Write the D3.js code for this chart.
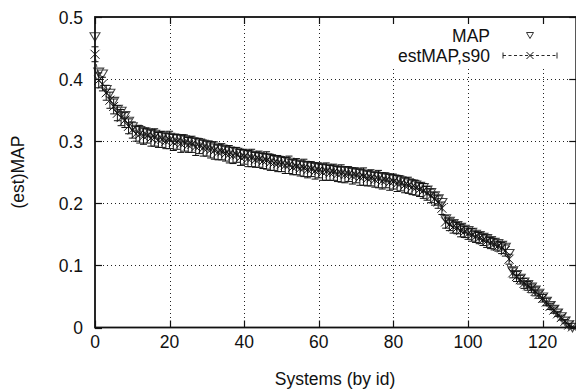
<!DOCTYPE html>
<html>
<head>
<meta charset="utf-8">
<script src="https://cdn.jsdelivr.net/npm/d3@7"></script>
<style>
  body { margin: 0; background: white; }
  text { font-family: "Liberation Sans", Arial, sans-serif; fill: #111; }
</style>
</head>
<body>
<div id="chart"></div>
<script>
// MAP per system, sorted
const mapValues = [
  0.469, 0.412, 0.409, 0.384, 0.378, 0.365, 0.352, 0.349, 0.342, 0.333,
  0.324, 0.320, 0.318, 0.316, 0.314, 0.313, 0.312, 0.310, 0.309, 0.308,
  0.307, 0.306, 0.305, 0.305, 0.303, 0.302, 0.300, 0.299, 0.298, 0.296,
  0.295, 0.293, 0.291, 0.289, 0.288, 0.287, 0.285, 0.284, 0.283, 0.281,
  0.280, 0.279, 0.278, 0.277, 0.276, 0.275, 0.274, 0.273, 0.271, 0.270,
  0.269, 0.268, 0.267, 0.265, 0.264, 0.263, 0.262, 0.261, 0.260, 0.259,
  0.258, 0.257, 0.257, 0.256, 0.255, 0.254, 0.253, 0.253, 0.252, 0.251,
  0.250, 0.249, 0.248, 0.247, 0.246, 0.245, 0.244, 0.243, 0.242, 0.241,
  0.240, 0.239, 0.237, 0.235, 0.234, 0.232, 0.230, 0.228, 0.226, 0.222,
  0.218, 0.213, 0.208, 0.202, 0.176, 0.172, 0.168, 0.165, 0.162, 0.159,
  0.157, 0.154, 0.151, 0.149, 0.146, 0.144, 0.141, 0.138, 0.136, 0.133,
  0.130, 0.120, 0.092, 0.086, 0.080, 0.074, 0.070, 0.066, 0.061, 0.056,
  0.050, 0.043, 0.036, 0.030, 0.024, 0.018, 0.011, 0.005, 0.001
];

// estimated MAP (s90) per system
const estValues = [
  0.440, 0.398, 0.392, 0.378, 0.366, 0.356, 0.345, 0.338, 0.334, 0.324,
  0.318, 0.312, 0.311, 0.308, 0.309, 0.305, 0.306, 0.302, 0.303, 0.300,
  0.302, 0.298, 0.299, 0.296, 0.297, 0.294, 0.295, 0.291, 0.292, 0.289,
  0.288, 0.286, 0.285, 0.282, 0.283, 0.280, 0.279, 0.277, 0.278, 0.274,
  0.275, 0.272, 0.273, 0.270, 0.271, 0.268, 0.269, 0.266, 0.265, 0.264,
  0.263, 0.261, 0.262, 0.258, 0.259, 0.256, 0.257, 0.254, 0.255, 0.252,
  0.253, 0.250, 0.251, 0.249, 0.250, 0.247, 0.248, 0.246, 0.247, 0.244,
  0.245, 0.242, 0.243, 0.240, 0.241, 0.238, 0.239, 0.236, 0.237, 0.234,
  0.235, 0.232, 0.232, 0.229, 0.229, 0.226, 0.225, 0.222, 0.220, 0.216,
  0.212, 0.207, 0.202, 0.192, 0.170, 0.166, 0.162, 0.160, 0.156, 0.154,
  0.151, 0.149, 0.146, 0.144, 0.141, 0.139, 0.136, 0.134, 0.131, 0.128,
  0.124, 0.110, 0.088, 0.082, 0.077, 0.071, 0.067, 0.063, 0.058, 0.053,
  0.047, 0.041, 0.034, 0.028, 0.022, 0.016, 0.010, 0.004, 0.001
];

// error half-widths of the estimate
const estErrors = [
  0.012, 0.012, 0.011, 0.012, 0.013, 0.012, 0.012, 0.013, 0.012, 0.012,
  0.013, 0.012, 0.014, 0.013, 0.012, 0.013, 0.014, 0.012, 0.013, 0.012,
  0.014, 0.013, 0.012, 0.014, 0.013, 0.012, 0.013, 0.014, 0.012, 0.013,
  0.012, 0.013, 0.014, 0.012, 0.013, 0.012, 0.014, 0.013, 0.012, 0.013,
  0.012, 0.013, 0.014, 0.012, 0.013, 0.012, 0.014, 0.013, 0.012, 0.013,
  0.012, 0.013, 0.014, 0.012, 0.013, 0.012, 0.014, 0.013, 0.012, 0.013,
  0.012, 0.013, 0.014, 0.012, 0.013, 0.012, 0.014, 0.013, 0.012, 0.013,
  0.012, 0.013, 0.014, 0.012, 0.013, 0.012, 0.014, 0.013, 0.012, 0.013,
  0.012, 0.013, 0.012, 0.012, 0.013, 0.012, 0.012, 0.011, 0.012, 0.011,
  0.011, 0.010, 0.010, 0.010, 0.010, 0.010, 0.010, 0.009, 0.010, 0.009,
  0.009, 0.010, 0.009, 0.009, 0.009, 0.010, 0.009, 0.009, 0.008, 0.009,
  0.009, 0.008, 0.008, 0.008, 0.007, 0.008, 0.007, 0.007, 0.007, 0.006,
  0.006, 0.006, 0.005, 0.005, 0.004, 0.004, 0.003, 0.002, 0.001
];

const xTicks = [0, 20, 40, 60, 80, 100, 120];
const yTicks = [0, 0.1, 0.2, 0.3, 0.4, 0.5];
const seriesNames = ["MAP", "estMAP,s90"];

const width = 576, height = 389;
const margin = {top: 17, right: 0, bottom: 62, left: 95};

const svg = d3.select("#chart").append("svg")
    .attr("width", width)
    .attr("height", height);

const x = d3.scaleLinear().domain([0, 129]).range([margin.left, 576.2]);
const y = d3.scaleLinear().domain([0, 0.5]).range([height - margin.bottom + 0.5, margin.top]);

const x0 = x.range()[0], x1 = x.range()[1];
const y0 = y.range()[0], y1 = y.range()[1];

// grid
const grid = svg.append("g").attr("stroke", "#222").attr("stroke-width", 1).attr("stroke-dasharray", "1,3");
grid.selectAll(".gx").data(xTicks.filter(d => d > 0)).join("line")
    .attr("x1", d => Math.round(x(d)) + 0.5).attr("x2", d => Math.round(x(d)) + 0.5)
    .attr("y1", y1).attr("y2", y0);
grid.selectAll(".gy").data(yTicks.filter(d => d > 0 && d < 0.5)).join("line")
    .attr("x1", x0).attr("x2", x1)
    .attr("y1", d => Math.round(y(d)) + 0.5).attr("y2", d => Math.round(y(d)) + 0.5);

// legend background hides the grid
svg.append("rect").attr("x", 378).attr("y", y1 + 2).attr("width", 196).attr("height", 47).attr("fill", "white");

// tick marks (mirrored, inward)
const ticks = svg.append("g").attr("stroke", "#111").attr("stroke-width", 1.2);
xTicks.forEach(d => {
    const px = Math.round(x(d)) + 0.5;
    ticks.append("line").attr("x1", px).attr("x2", px).attr("y1", y0).attr("y2", y0 - 7);
    ticks.append("line").attr("x1", px).attr("x2", px).attr("y1", y1).attr("y2", y1 + 7);
});
yTicks.forEach(d => {
    const py = Math.round(y(d)) + 0.5;
    ticks.append("line").attr("x1", x0).attr("x2", x0 + 7).attr("y1", py).attr("y2", py);
    ticks.append("line").attr("x1", x1).attr("x2", x1 - 7).attr("y1", py).attr("y2", py);
});

// tick labels
svg.append("g").selectAll("text").data(xTicks).join("text")
    .attr("x", d => x(d)).attr("y", y0 + 20)
    .attr("text-anchor", "middle").attr("font-size", "17.5px")
    .text(d => d);
svg.append("g").selectAll("text").data(yTicks).join("text")
    .attr("x", 83).attr("y", d => y(d) + 6.5)
    .attr("text-anchor", "end").attr("font-size", "17.5px")
    .text(d => d === 0 ? "0" : d3.format(".1f")(d));

// axis titles
svg.append("text").attr("x", 335).attr("y", 385)
    .attr("text-anchor", "middle").attr("font-size", "17.5px")
    .text("Systems (by id)");
svg.append("text").attr("transform", "translate(24,172) rotate(-90)")
    .attr("text-anchor", "middle").attr("font-size", "17.5px")
    .text("(est)MAP");

const mapData = mapValues.map((v, i) => ({id: i, v}));
const estData = estValues.map((v, i) => ({id: i, v, e: estErrors[i]}));

const triPath = "M-5,-3.5L5,-3.5L0,5Z";
const crossPath = "M-4.5,-4.5L4.5,4.5M-4.5,4.5L4.5,-4.5";

// MAP points
svg.append("g").selectAll("path").data(mapData).join("path")
    .attr("transform", d => `translate(${x(d.id)},${y(d.v)})`)
    .attr("d", triPath)
    .attr("fill", "none").attr("stroke", "#444").attr("stroke-width", 1.1);

// estMAP: dashed line, error bars, crosses
const plot = svg.append("g").attr("stroke", "#111").attr("fill", "none");
plot.append("path").datum(estData)
    .attr("d", d3.line().x(d => x(d.id)).y(d => y(d.v)))
    .attr("stroke-width", 0.8).attr("stroke-dasharray", "3,2");
const bars = plot.append("g").attr("stroke-width", 1);
bars.selectAll(".eb").data(estData).join("path")
    .attr("d", d => {
        const px = x(d.id), ya = y(d.v - d.e), yb = y(d.v + d.e);
        return `M${px},${ya}L${px},${yb}M${px - 3.5},${ya}L${px + 3.5},${ya}M${px - 3.5},${yb}L${px + 3.5},${yb}`;
    });
plot.append("g").selectAll("path").data(estData).join("path")
    .attr("transform", d => `translate(${x(d.id)},${y(d.v)})`)
    .attr("d", crossPath).attr("stroke-width", 1);

// border
svg.append("rect").attr("x", x0).attr("y", y1).attr("width", x1 - x0).attr("height", y0 - y1)
    .attr("fill", "none").attr("stroke", "#111").attr("stroke-width", 1.8);

// legend
const legend = svg.append("g");
legend.append("text").attr("x", 490).attr("y", 42).attr("text-anchor", "end")
    .attr("font-size", "17.5px").text(seriesNames[0]);
legend.append("path").attr("transform", "translate(530,35)").attr("d", "M-3.5,-2.5L3.5,-2.5L0,3.5Z")
    .attr("fill", "none").attr("stroke", "#333").attr("stroke-width", 1);
legend.append("text").attr("x", 490).attr("y", 62).attr("text-anchor", "end")
    .attr("font-size", "17.5px").text(seriesNames[1]);
const ly = 55.5;
legend.append("path").attr("d", `M503,${ly}L557,${ly}`)
    .attr("stroke", "#111").attr("stroke-width", 0.9).attr("stroke-dasharray", "3,2.5");
legend.append("path").attr("d", `M503,${ly - 3}L503,${ly + 3}M557,${ly - 3}L557,${ly + 3}`)
    .attr("stroke", "#111").attr("stroke-width", 0.9);
legend.append("path").attr("transform", `translate(530,${ly})`).attr("d", "M-3.5,-3.5L3.5,3.5M-3.5,3.5L3.5,-3.5")
    .attr("stroke", "#111").attr("stroke-width", 1);
</script>
</body>
</html>
